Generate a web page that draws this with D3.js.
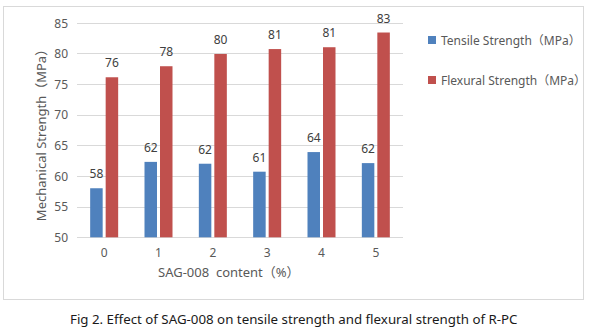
<!DOCTYPE html>
<html>
<head>
<meta charset="utf-8">
<script src="https://cdn.jsdelivr.net/npm/d3@7/dist/d3.min.js"></script>
<style>
  html, body { margin: 0; padding: 0; background: #fff; }
  svg { display: block; }
  text { font-family: "Noto Sans", "Noto Sans CJK SC", sans-serif; }
</style>
</head>
<body>
<svg id="chart" width="589" height="330"></svg>
<script>
// SAG-008 dosage levels (%)
const categories = ["0", "1", "2", "3", "4", "5"];
// Measured strengths in MPa
const tensile = [58.0, 62.3, 62.0, 60.7, 63.9, 62.1];
const flexural = [76.1, 77.9, 79.9, 80.7, 81.0, 83.4];
const seriesNames = ["Tensile Strength（MPa）", "Flexural Strength（MPa）"];
const yTicks = [50, 55, 60, 65, 70, 75, 80, 85];
const caption = "Fig 2. Effect of SAG-008 on tensile strength and flexural strength of R-PC";

const colors = ["#4F81BD", "#C0504D"];
const textColor = "#595959";

const svg = d3.select("#chart");

// chart frame
svg.append("rect")
  .attr("x", 3.5).attr("y", 6.5).attr("width", 580).attr("height", 293)
  .attr("fill", "#fff").attr("stroke", "#D9D9D9").attr("stroke-width", 1);

const plot = { left: 77, right: 403, top: 22.7, bottom: 237.3 };

const x = d3.scaleBand().domain(categories).range([plot.left, plot.right]);
const y = d3.scaleLinear().domain([50, 85]).range([plot.bottom, plot.top]);

// gridlines
svg.append("g")
  .selectAll("line").data(yTicks).join("line")
  .attr("x1", plot.left).attr("x2", plot.right)
  .attr("y1", d => Math.round(y(d)) + 0.5).attr("y2", d => Math.round(y(d)) + 0.5)
  .attr("stroke", "#D9D9D9").attr("stroke-width", 1);

// y axis labels
const yAxis = d3.axisLeft(y).tickValues(yTicks).tickSize(0).tickPadding(0);
const gy = svg.append("g").attr("transform", `translate(${plot.left - 9},0)`).call(yAxis);
gy.select(".domain").remove();
gy.selectAll("text").attr("fill", textColor).attr("font-size", 12).attr("dy", "0.36em");

// x axis labels
const xAxis = d3.axisBottom(x).tickSize(0).tickPadding(0);
const gx = svg.append("g").attr("transform", `translate(0,${plot.bottom + 11})`).call(xAxis);
gx.select(".domain").remove();
gx.selectAll("text").attr("fill", textColor).attr("font-size", 12);

// bars
const barW = 12.5, gap = 3;
const data = categories.map((c, i) => ({ c, vals: [tensile[i], flexural[i]] }));
const groups = svg.append("g").selectAll("g").data(data).join("g")
  .attr("transform", d => `translate(${x(d.c) + x.bandwidth() / 2},0)`);

groups.selectAll("rect").data(d => d.vals).join("rect")
  .attr("x", (v, j) => j === 0 ? -(barW + gap / 2) : gap / 2)
  .attr("width", barW)
  .attr("y", v => y(v))
  .attr("height", v => plot.bottom - y(v))
  .attr("fill", (v, j) => colors[j]);

groups.selectAll("text.val").data(d => d.vals).join("text")
  .attr("class", "val")
  .attr("x", (v, j) => j === 0 ? -(barW + gap / 2) + barW / 2 : gap / 2 + barW / 2)
  .attr("y", v => y(v) - 10)
  .attr("text-anchor", "middle")
  .attr("font-size", 12)
  .attr("fill", "#404040")
  .text(v => d3.format(".0f")(v));

// axis titles
svg.append("text")
  .attr("transform", `translate(46,${(plot.top + plot.bottom) / 2 + 2}) rotate(-90)`)
  .attr("text-anchor", "middle")
  .attr("font-size", 13).attr("fill", textColor)
  .text("Mechanical Strength（MPa）");

svg.append("text")
  .attr("x", 158).attr("y", 277)
  .attr("font-size", 13).attr("fill", textColor)
  .attr("xml:space", "preserve")
  .text("SAG-008  content（%）");

// legend
const legend = svg.append("g").selectAll("g").data(seriesNames).join("g")
  .attr("transform", (d, i) => `translate(428,${36 + i * 40})`);
legend.append("rect").attr("width", 8).attr("height", 8).attr("fill", (d, i) => colors[i]);
legend.append("text").attr("x", 13).attr("y", 8.5)
  .attr("font-size", 12).attr("fill", textColor).text(d => d);

// caption
svg.append("text")
  .attr("x", 70).attr("y", 324)
  .attr("font-size", 13.3).attr("fill", "#1a1a1a")
  .text(caption);
</script>
</body>
</html>
